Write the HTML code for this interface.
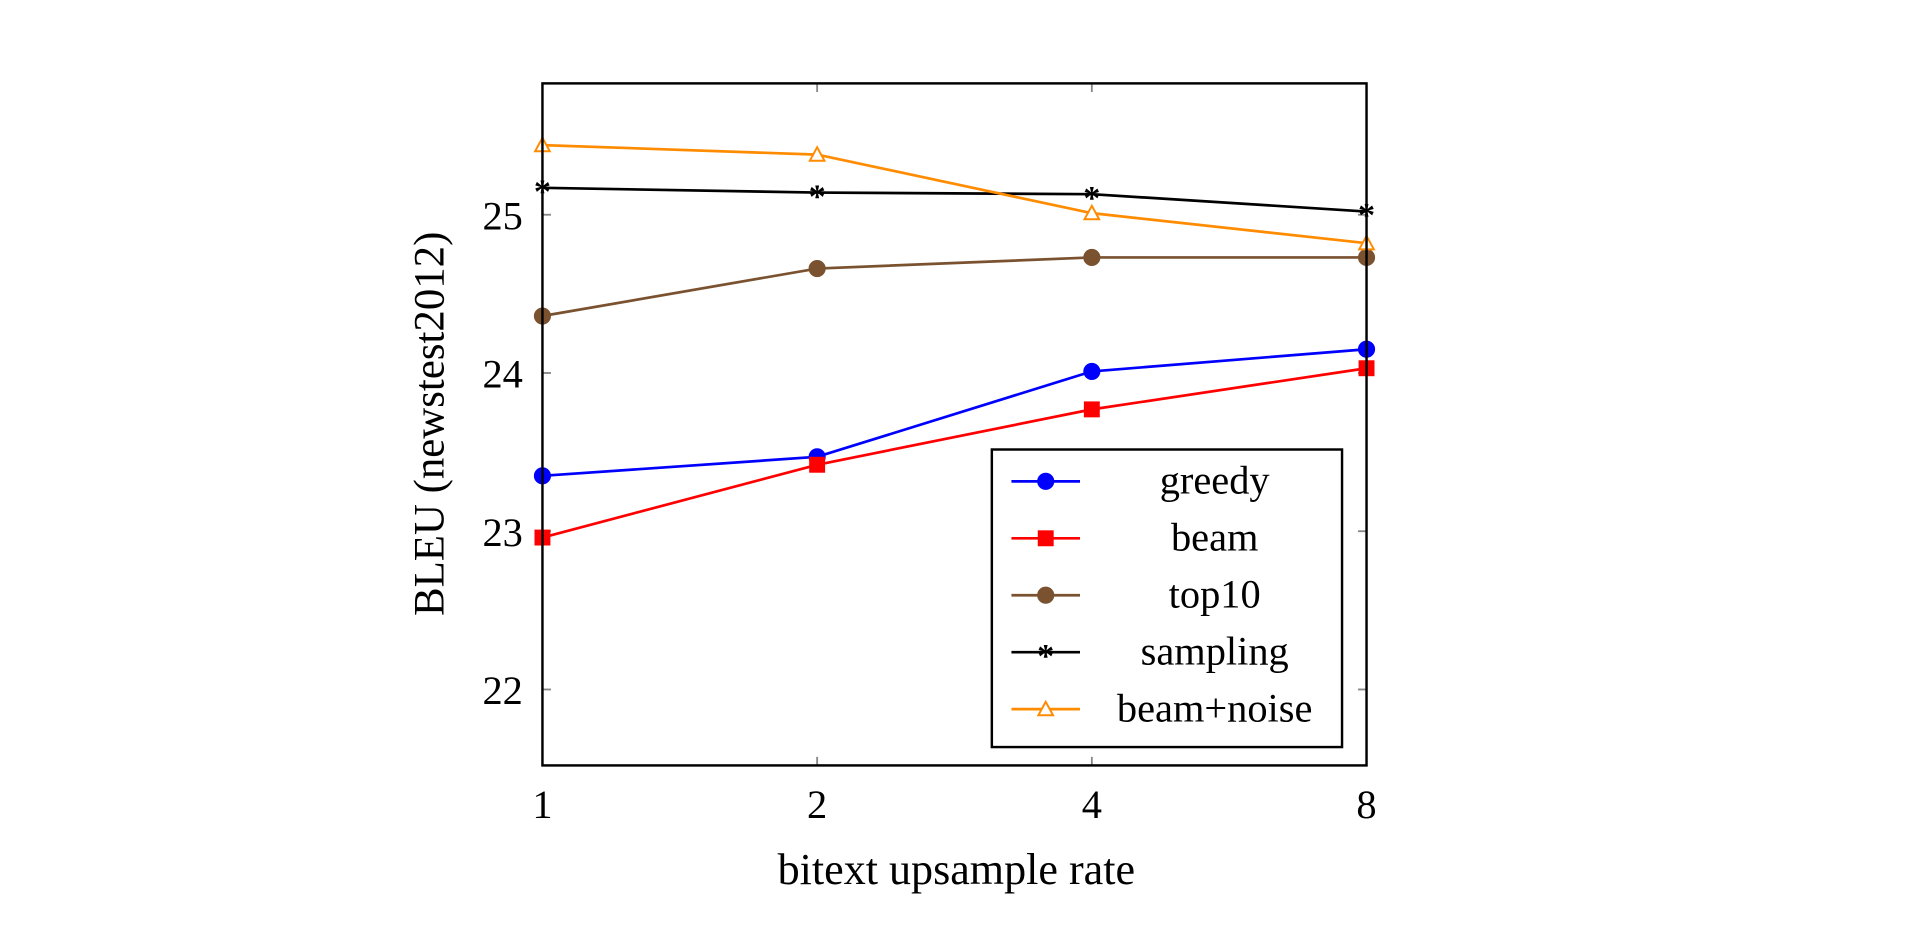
<!DOCTYPE html>
<html><head><meta charset="utf-8"><style>
html,body{margin:0;padding:0;background:#fff;}
svg{display:block;font-family:"Liberation Serif",serif;}
</style></head><body>
<svg id="chart" width="1920" height="948" viewBox="0 0 1568 774" xmlns="http://www.w3.org/2000/svg">
<g id="grid"></g>
<g id="series"></g>
<rect x="443" y="68" width="673" height="557" fill="none" stroke="#000" stroke-width="2"/>
<text transform="translate(362,346) rotate(-90)" text-anchor="middle" font-size="35">BLEU (newstest2012)</text>
<text x="781" y="722" text-anchor="middle" font-size="36">bitext upsample rate</text>
<g id="legend"></g>
</svg>
<script>
const categories = ["1","2","4","8"];
const yTicks = [22,23,24,25];
const greedy = [23.35,23.47,24.01,24.15];
const beam = [22.96,23.42,23.77,24.03];
const top10 = [24.36,24.66,24.73,24.73];
const sampling = [25.17,25.14,25.13,25.02];
const beamNoise = [25.44,25.38,25.01,24.82];
const seriesNames = ["greedy","beam","top10","sampling","beam+noise"];

const NS="http://www.w3.org/2000/svg";
const X0=443,X1=1116,Y0=625,Y1=68,YMIN=21.52,YMAX=25.83;
function xs(i){return X0+(X1-X0)*i/(categories.length-1);}
function ys(v){return Y0-(v-YMIN)/(YMAX-YMIN)*(Y0-Y1);}
function mk(tag,attrs,parent){const e=document.createElementNS(NS,tag);for(const k in attrs)e.setAttribute(k,attrs[k]);parent.appendChild(e);return e;}
const grid=document.getElementById('grid');
categories.forEach((c,i)=>{
  const x=xs(i);
  const t1=mk('line',{x1:x,x2:x,y1:Y0,y2:Y0-7,stroke:'#888','stroke-width':1.5},grid);
  
  
  mk('line',{x1:x,x2:x,y1:Y1,y2:Y1+7,stroke:'#888','stroke-width':1.5},grid);
  const tx=mk('text',{x:x,y:Y0+43,'text-anchor':'middle','font-size':33},grid);
  tx.textContent=c;
  
  
});
yTicks.forEach(v=>{
  const y=ys(v);
  const t=mk('line',{x1:X0,x2:X0+7,y1:y,y2:y,stroke:'#888','stroke-width':1.5},grid);
  
  
  mk('line',{x1:X1,x2:X1-7,y1:y,y2:y,stroke:'#888','stroke-width':1.5},grid);
  const tx=mk('text',{x:X0-16,y:y+12,'text-anchor':'end','font-size':33},grid);
  tx.textContent=String(v);
  
  
});
function marker(type,x,y,color,parent){
  let e;
  if(type==='circle'){e=mk('circle',{cx:x,cy:y,r:6.5,fill:color,stroke:color},parent);}
  else if(type==='square'){e=mk('rect',{x:x-6.5,y:y-6.5,width:13,height:13,fill:color},parent);}
  else if(type==='tri'){e=mk('polygon',{points:`${x},${y-6} ${x-6},${y+5} ${x+6},${y+5}`,fill:'#fff',stroke:color,'stroke-width':1.6},parent);}
  else {e=mk('text',{x:x,y:y+12,'text-anchor':'middle','font-size':28,'font-weight':'bold',fill:color},parent);e.textContent='*';}
  return e;
}
const defs=[[greedy,'#0000ff','circle'],[beam,'#ff0000','square'],[top10,'#7a5230','circle'],[sampling,'#000','star'],[beamNoise,'#ff8c00','tri']];
const sg=document.getElementById('series');
defs.forEach((d,si)=>{
  const [vals,color,m]=d;
  const g=mk('g',{},sg);
  
  
  const pts=vals.map((v,i)=>xs(i)+','+ys(v)).join(' ');
  const pl=mk('polyline',{points:pts,fill:'none',stroke:color,'stroke-width':2.2},g);
  
  
  vals.forEach((v,i)=>{
    const e=marker(m,xs(i),ys(v),color,g);
    
    
  });
});
const lg=document.getElementById('legend');
mk('rect',{x:810,y:367,width:286,height:243,fill:'#fff',stroke:'#000','stroke-width':2},lg);
defs.forEach((d,i)=>{
  const y=393+i*46.5;
  const [vals,color,m]=d;
  const g=mk('g',{},lg);
  
  
  mk('line',{x1:826,x2:882,y1:y,y2:y,stroke:color,'stroke-width':2.2},g);
  marker(m,854,y,color,g);
  const t=mk('text',{x:992,y:y+10,'text-anchor':'middle','font-size':33},g);
  t.textContent=seriesNames[i];
});
</script>
</body></html>
